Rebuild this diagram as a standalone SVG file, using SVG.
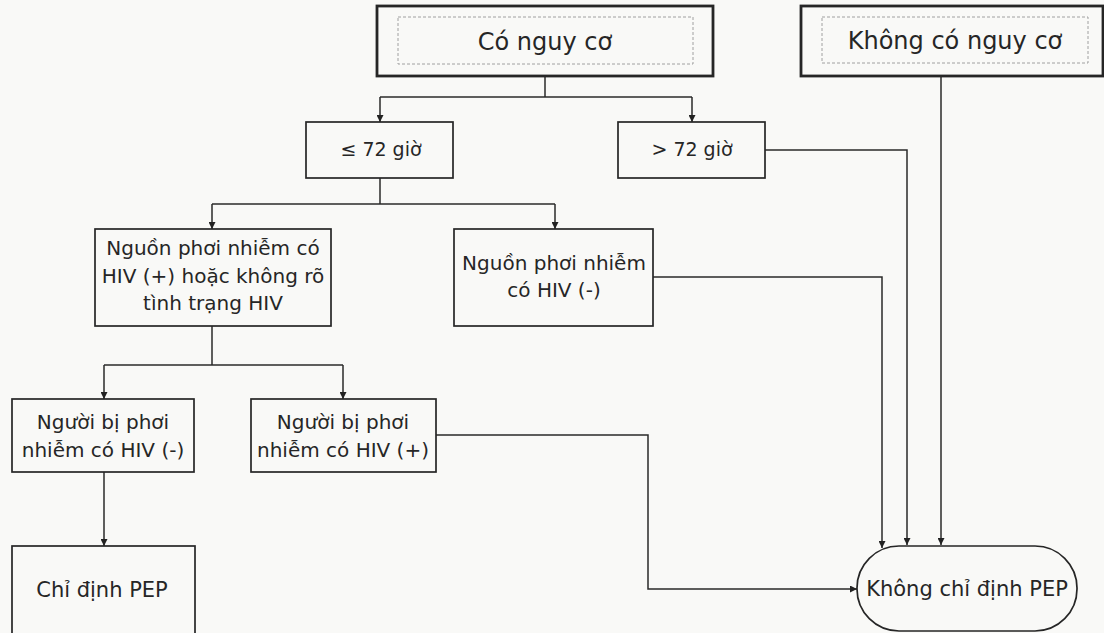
<svg xmlns="http://www.w3.org/2000/svg" width="1104" height="633" viewBox="0 0 1104 633">
  <style>
    .box { fill: none; stroke: #262626; stroke-width: 1.7; }
    .topbox { fill: none; stroke: #262626; stroke-width: 2.8; }
    .inner { fill: none; stroke: #a0a0a0; stroke-width: 1; stroke-dasharray: 3 2; }
    .lbl { font-family: "DejaVu Sans", "Liberation Sans", sans-serif; font-size: 20px; fill: #262626; text-anchor: middle; }
    .sm { font-size: 19px; }
    .lg { font-size: 21px; }
    .big { font-family: "DejaVu Sans", "Liberation Sans", sans-serif; font-size: 24px; fill: #262626; text-anchor: middle; }
    .wire { fill: none; stroke: #2a2a2a; stroke-width: 1.5; }
  </style>
  <defs>
    <marker id="arrow" viewBox="0 0 10 10" refX="10" refY="5" markerWidth="7" markerHeight="7" markerUnits="userSpaceOnUse" orient="auto">
      <path d="M0,0 L10,5 L0,10 z" fill="#222"/>
    </marker>
  </defs>
  <rect width="1104" height="633" fill="#f9f9f7"/>

  <!-- connectors -->
  <g id="connectors">
    <path class="wire" d="M545,76 V97"/>
    <path class="wire" d="M380,97 H692"/>
    <path class="wire" d="M380,97 V122" marker-end="url(#arrow)"/>
    <path class="wire" d="M692,97 V122" marker-end="url(#arrow)"/>
    <path class="wire" d="M380,178 V204"/>
    <path class="wire" d="M212,204 H555"/>
    <path class="wire" d="M212,204 V229" marker-end="url(#arrow)"/>
    <path class="wire" d="M555,204 V229" marker-end="url(#arrow)"/>
    <path class="wire" d="M212,326 V365"/>
    <path class="wire" d="M104,365 H343"/>
    <path class="wire" d="M104,365 V399" marker-end="url(#arrow)"/>
    <path class="wire" d="M343,365 V399" marker-end="url(#arrow)"/>
    <path class="wire" d="M104,472 V546" marker-end="url(#arrow)"/>
    <path class="wire" d="M941,76 V545" marker-end="url(#arrow)"/>
    <path class="wire" d="M765,150 H907 V545" marker-end="url(#arrow)"/>
    <path class="wire" d="M653,277 H882 V548" marker-end="url(#arrow)"/>
    <path class="wire" d="M436,435 H648 V589 H857" marker-end="url(#arrow)"/>
  </g>

  <g id="co-nguy-co">
    <rect class="topbox" x="377" y="6" width="336" height="70"/>
    <rect class="inner" x="398" y="17" width="295" height="47"/>
    <text class="big" x="545" y="50">Có nguy cơ</text>
  </g>

  <g id="khong-co-nguy-co">
    <rect class="topbox" x="801" y="6" width="302" height="70"/>
    <rect class="inner" x="822" y="17" width="266" height="46"/>
    <text class="big" x="955" y="49">Không có nguy cơ</text>
  </g>

  <g id="duoi-72-gio">
    <rect class="box" x="306" y="122" width="147" height="56"/>
    <text class="lbl sm" x="381" y="156">≤ 72 giờ</text>
  </g>

  <g id="tren-72-gio">
    <rect class="box" x="618" y="122" width="147" height="56"/>
    <text class="lbl sm" x="692" y="156">&gt; 72 giờ</text>
  </g>

  <g id="nguon-duong-tinh">
    <rect class="box" x="95" y="229" width="236" height="97"/>
    <text class="lbl" x="213" y="255">Nguồn phơi nhiễm có</text>
    <text class="lbl" x="213" y="283">HIV (+) hoặc không rõ</text>
    <text class="lbl" x="213" y="310">tình trạng HIV</text>
  </g>

  <g id="nguon-am-tinh">
    <rect class="box" x="454" y="229" width="199" height="97"/>
    <text class="lbl" x="554" y="270">Nguồn phơi nhiễm</text>
    <text class="lbl" x="554" y="297">có HIV (-)</text>
  </g>

  <g id="nguoi-am-tinh">
    <rect class="box" x="12" y="399" width="182" height="73"/>
    <text class="lbl" x="103" y="429">Người bị phơi</text>
    <text class="lbl" x="103" y="457">nhiễm có HIV (-)</text>
  </g>

  <g id="nguoi-duong-tinh">
    <rect class="box" x="251" y="399" width="185" height="73"/>
    <text class="lbl" x="343" y="429">Người bị phơi</text>
    <text class="lbl" x="343" y="457">nhiễm có HIV (+)</text>
  </g>

  <g id="chi-dinh-pep">
    <rect class="box" x="12" y="546" width="183" height="100"/>
    <text class="lbl lg" x="102" y="597">Chỉ định PEP</text>
  </g>

  <g id="khong-chi-dinh-pep">
    <rect class="box" x="857" y="546" width="220" height="85" rx="42" ry="42"/>
    <text class="lbl lg" x="967" y="596">Không chỉ định PEP</text>
  </g>
</svg>
